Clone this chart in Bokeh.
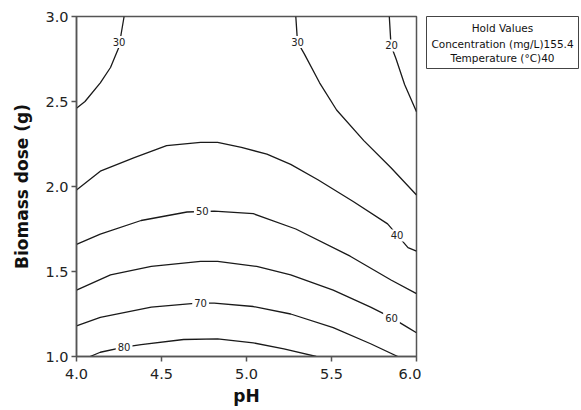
from bokeh.plotting import figure
from bokeh.layouts import row
from bokeh.models import FixedTicker, PrintfTickFormatter, ColumnDataSource
from bokeh.core.properties import value
from bokeh.embed import file_html
from bokeh.resources import INLINE

# ---- data ----
x_ticks = [4.0, 4.5, 5.0, 5.5, 6.0]
y_ticks = [1.0, 1.5, 2.0, 2.5, 3.0]

c20_x = [5.84, 5.85, 5.88, 5.93, 6.00]
c20_y = [3.00, 2.83, 2.75, 2.60, 2.44]

c30a_x = [4.00, 4.05, 4.14, 4.20, 4.25, 4.263, 4.28]
c30a_y = [2.46, 2.50, 2.61, 2.70, 2.82, 2.90, 3.00]

c30b_x = [5.29, 5.30, 5.34, 5.43, 5.53, 5.69, 5.85, 6.00]
c30b_y = [3.00, 2.85, 2.78, 2.61, 2.45, 2.27, 2.11, 1.95]

c40_x = [4.00, 4.14, 4.34, 4.53, 4.73, 4.83, 4.97, 5.12, 5.26, 5.42, 5.63, 5.83, 5.95, 6.00]
c40_y = [1.98, 2.09, 2.17, 2.24, 2.26, 2.26, 2.23, 2.19, 2.13, 2.04, 1.91, 1.78, 1.64, 1.62]

c50_x = [4.00, 4.14, 4.38, 4.65, 4.81, 5.04, 5.29, 5.61, 5.85, 6.00]
c50_y = [1.66, 1.72, 1.80, 1.85, 1.855, 1.84, 1.75, 1.59, 1.45, 1.37]

c60_x = [4.00, 4.20, 4.44, 4.73, 4.83, 5.06, 5.26, 5.51, 5.73, 5.85, 5.95, 6.00]
c60_y = [1.39, 1.48, 1.53, 1.56, 1.56, 1.53, 1.48, 1.39, 1.29, 1.23, 1.17, 1.14]

c70_x = [4.00, 4.14, 4.44, 4.71, 4.81, 5.04, 5.26, 5.51, 5.73, 5.89]
c70_y = [1.18, 1.23, 1.29, 1.314, 1.314, 1.294, 1.25, 1.17, 1.075, 1.00]

c80_x = [4.08, 4.14, 4.28, 4.38, 4.63, 4.83, 5.04, 5.22, 5.41]
c80_y = [1.00, 1.025, 1.055, 1.07, 1.10, 1.104, 1.08, 1.045, 1.00]

label_text = ["30", "30", "20", "50", "40", "70", "60", "80"]
label_x = [4.25, 5.30, 5.853, 4.74, 5.886, 4.73, 5.853, 4.28]
label_y = [2.85, 2.85, 2.83, 1.853, 1.712, 1.314, 1.228, 1.055]

hold_lines = ["Hold Values", "Concentration (mg/L)155.4", "Temperature (°C)40"]
hold_rows = [2.34, 1.44, 0.58]

# ---- main contour figure ----
FONT = "DejaVu Sans"
p = figure(width=421, height=410, x_range=(4, 6), y_range=(1, 3),
           output_backend="svg", toolbar_location=None,
           min_border_left=76, min_border_right=5,
           min_border_top=16, min_border_bottom=54)
p.background_fill_color = "white"
p.border_fill_color = "white"
p.outline_line_color = "#555555"
p.outline_line_width = 1.5
p.grid.visible = False

for ax in (p.xaxis, p.yaxis):
    ax.axis_line_color = "#555555"
    ax.axis_line_width = 1.5
    ax.major_tick_line_color = "#555555"
    ax.major_tick_line_width = 1.5
    ax.major_tick_out = 5
    ax.major_tick_in = 0
    ax.minor_tick_line_color = None
    ax.major_label_text_font = FONT
    ax.major_label_text_font_size = "14.5px"
    ax.major_label_text_color = "#222222"
    ax.axis_label_text_font = FONT
    ax.axis_label_text_font_style = "bold"
    ax.axis_label_text_font_size = "17px"
    ax.axis_label_text_color = "#111111"
    ax.formatter = PrintfTickFormatter(format="%.1f")

p.xaxis.ticker = FixedTicker(ticks=x_ticks)
p.yaxis.ticker = FixedTicker(ticks=y_ticks)
p.xaxis.axis_label = "pH"
p.yaxis.axis_label = "Biomass dose (g)"
p.xaxis.major_label_standoff = 7
p.xaxis.axis_label_standoff = 4
p.yaxis.major_label_standoff = 3
p.yaxis.axis_label_standoff = 10

LINE = "#1a1a1a"
for xs, ys in [(c20_x, c20_y), (c30a_x, c30a_y), (c30b_x, c30b_y), (c40_x, c40_y),
               (c50_x, c50_y), (c60_x, c60_y), (c70_x, c70_y), (c80_x, c80_y)]:
    p.line(xs, ys, line_color=LINE, line_width=1.3)

src = ColumnDataSource(dict(x=label_x, y=label_y, t=label_text))
p.text(x="x", y="y", text="t", source=src, text_font=value(FONT),
       text_font_size="10px", text_color="#222222", text_align="center",
       text_baseline="middle", background_fill_color="white", padding=2)

# ---- "Hold Values" box ----
q = figure(frame_width=152, frame_height=52, title=None,
           x_range=(0, 1), y_range=(0, 3),
           x_axis_type=None, y_axis_type=None,
           output_backend="svg", toolbar_location=None,
           min_border_left=5, min_border_right=3,
           min_border_top=16, min_border_bottom=2)
q.grid.visible = False
q.outline_line_color = "#444444"
q.outline_line_width = 1
q.border_fill_color = "white"
q.background_fill_color = "white"
hsrc = ColumnDataSource(dict(x=[0.5] * len(hold_lines), y=hold_rows, t=hold_lines))
q.text(x="x", y="y", text="t", source=hsrc, text_font=value(FONT),
       text_font_size="10.5px", text_color="#111111", text_align="center",
       text_baseline="middle")

layout = row(p, q, spacing=0)
open("out.html", "w").write(file_html(layout, INLINE))
